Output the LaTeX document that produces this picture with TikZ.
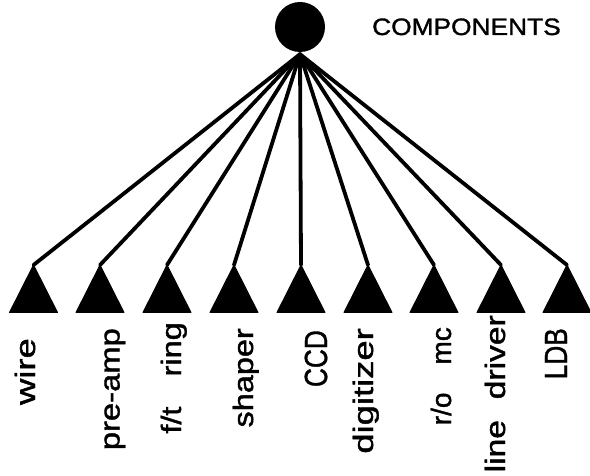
\documentclass[tikz,border=0pt]{standalone}
\usepackage{fontspec}
\setmainfont{Liberation Sans}
\newfontfamily\heavyfont[FakeBold=1.3]{Liberation Sans}
\begin{document}
\begin{tikzpicture}[x=1pt,y=-1pt,
  hub/.style={circle,fill=black,draw=none,minimum size=50pt,inner sep=0pt},
  conn/.style={line width=3.8pt,line cap=round},
  tri/.style={fill=black,draw=black,line width=1pt,line join=round},
  lab/.style={rotate=90,anchor=base east,inner sep=0pt,font=\heavyfont\fontsize{28}{28}\selectfont},
  caplab/.style={rotate=90,anchor=base east,inner sep=0pt,font=\heavyfont\fontsize{32}{32}\selectfont},
  title/.style={anchor=base west,inner sep=0pt,font=\heavyfont\fontsize{23.7}{24}\selectfont}]
\useasboundingbox (0,0) rectangle (590,476);
\node[hub] (top) at (300,27) {};
\node[title] (ttl) at (372,35) {\scalebox{1.11}[1]{COMPONENTS}};
\foreach \i/\x in {1/33.5,2/100,3/167,4/234,5/301,6/368,7/434,8/501,9/567}{
  \coordinate (a\i) at (\x,265);
  \filldraw[tri] (a\i) -- ++(24,47.5) -- ++(-48,0) -- cycle;
  \draw[conn] ([yshift=-2pt]top.south) -- (a\i);
}
\node[lab] (l1) at (35,338) {\scalebox{1.3}[1]{wire}};
\node[lab] (l2) at (119.5,328) {\scalebox{1.17}[1]{pre-amp}};
\node[lab] (l3) at (181,322) {\scalebox{1.16}[1]{f/t\hspace{0.93em}ring}};
\node[lab] (l4) at (253,328) {\scalebox{1.16}[1]{shaper}};
\node[caplab] (l5) at (327,330) {\scalebox{0.82}[1]{CCD}};
\node[lab] (l6) at (373,328) {\scalebox{1.3}[1]{digitizer}};
\node[lab] (l7) at (451,327) {\scalebox{1.0}[1]{r/o\hspace{1em}mc}};
\node[lab] (l8) at (505,315) {\scalebox{1.2}[1]{line\hspace{0.62em}driver}};
\node[caplab] (l9) at (567,328) {\scalebox{0.82}[1]{LDB}};
\end{tikzpicture}
\end{document}
